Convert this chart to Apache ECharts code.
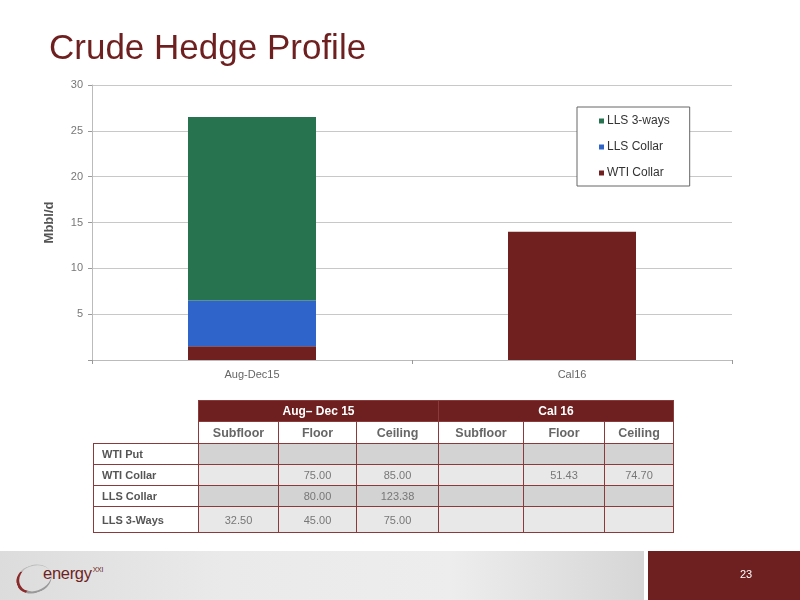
<!DOCTYPE html>
<html>
<head>
<meta charset="utf-8">
<script src="https://cdn.jsdelivr.net/npm/echarts@6/dist/echarts.min.js"></script>
<style>
html,body{margin:0;padding:0;background:#fff;}
#wrap{position:relative;width:800px;height:600px;overflow:hidden;font-family:"Liberation Sans",Arial,sans-serif;}
#chart{position:absolute;left:0;top:0;width:800px;height:600px;}
#tbl{position:absolute;left:93px;top:400px;border-collapse:collapse;font-family:"Liberation Sans",Arial,sans-serif;}
#tbl td{padding:0;border:1px solid #8a3a3a;font-size:11px;color:#777;text-align:center;}
#tbl tr.h1 td{background:#6e1f1f;color:#fff;font-weight:bold;font-size:12px;height:20px;}
#tbl tr.h1 td.blank{background:#fff;border:none;}
#tbl tr.h2 td{background:#fff;color:#666;font-weight:bold;font-size:12.5px;height:21px;}
#tbl tr.h2 td.blank{border:none;border-bottom:1px solid #8a3a3a;}
#tbl td.lab{background:#fff;color:#555;font-weight:bold;text-align:left;padding-left:8px;font-size:11px;}
#tbl tr.dk td.v{background:#d3d3d3;}
#tbl tr.lt td.v{background:#e8e8e8;}
#tbl tr.r td{height:20px;}
#tbl tr.last td{height:25px;}
#foot{position:absolute;left:0;top:551px;width:644px;height:49px;background:linear-gradient(90deg,#dcdcdc 0%,#eaeaea 35%,#ededed 70%,#d6d6d6 100%);}
#pg{position:absolute;left:648px;top:551px;width:152px;height:49px;background:#6e1f1f;color:#fff;font-size:11px;}
#pg span{position:absolute;left:92px;top:17px;}
#logo{position:absolute;left:43px;top:13px;color:#6e1f1f;font-size:16.5px;letter-spacing:-0.3px;}
#logo sup{font-size:7px;vertical-align:7px;margin-left:1px;}
#swoosh{position:absolute;left:16px;top:14px;width:36px;height:28px;border-radius:50%;border-left:3px solid #8a2a2a;border-bottom:2px solid #999;border-top:1px solid #bbb;box-sizing:border-box;transform:rotate(-20deg);}
</style>
</head>
<body>
<div id="wrap">
<div id="chart"></div>
<table id="tbl"></table>
<div id="foot"><div id="swoosh"></div><div id="logo">energy<sup>XXI</sup></div></div>
<div id="pg"><span>23</span></div>
</div>
<script>
var categories = ["Aug-Dec15", "Cal16"];
var wtiCollar = [1.5, 14];
var llsCollar = [5, 0];
var lls3ways = [20, 0];
var yTicks = [0, 5, 10, 15, 20, 25, 30];

var tableGroups = ["Aug\u2013 Dec 15", "Cal 16"];
var tableCols = ["Subfloor", "Floor", "Ceiling", "Subfloor", "Floor", "Ceiling"];
var tableRows = ["WTI Put", "WTI Collar", "LLS Collar", "LLS 3-Ways"];
var tableVals = [
  ["", "", "", "", "", ""],
  ["", "75.00", "85.00", "", "51.43", "74.70"],
  ["", "80.00", "123.38", "", "", ""],
  ["32.50", "45.00", "75.00", "", "", ""]
];

var colWidths = [105, 80, 78, 82, 85, 81, 69];
(function buildTable(){
  var t = document.getElementById('tbl');
  var h = '<colgroup>';
  colWidths.forEach(function(w){ h += '<col style="width:' + w + 'px">'; });
  h += '</colgroup>';
  h += '<tr class="h1"><td class="blank"></td><td colspan="3">' + tableGroups[0] + '</td><td colspan="3">' + tableGroups[1] + '</td></tr>';
  h += '<tr class="h2"><td class="blank"></td>';
  tableCols.forEach(function(c){ h += '<td>' + c + '</td>'; });
  h += '</tr>';
  tableRows.forEach(function(r, i){
    var cls = (i % 2 === 0 ? 'dk' : 'lt') + (i === tableRows.length - 1 ? ' last' : ' r');
    h += '<tr class="' + cls + '"><td class="lab">' + r + '</td>';
    tableVals[i].forEach(function(v){ h += '<td class="v">' + v + '</td>'; });
    h += '</tr>';
  });
  t.innerHTML = h;
})();

var chart = echarts.init(document.getElementById('chart'));
chart.setOption({
  animation: false,
  title: {
    text: 'Crude Hedge Profile',
    left: 44, top: 27,
    textStyle: {color: '#6e1f1f', fontSize: 35, fontWeight: 'normal', fontFamily: 'Liberation Sans, Arial, sans-serif'}
  },
  legend: {
    data: ['LLS 3-ways', 'LLS Collar', 'WTI Collar'],
    orient: 'vertical',
    left: 577, top: 107,
    padding: [8, 20, 7, 22],
    itemWidth: 5, itemHeight: 5, itemGap: 14,
    icon: 'rect',
    borderColor: '#666', borderWidth: 1, backgroundColor: '#fff',
    textStyle: {fontSize: 12, color: '#333', fontFamily: 'Liberation Sans, Arial, sans-serif', padding: [0, 0, 0, -2]}
  },
  grid: {left: 92, right: 68, top: 85, bottom: 240},
  xAxis: {
    type: 'category',
    data: categories,
    axisLine: {lineStyle: {color: '#bbb'}},
    axisTick: {show: true, length: 4, lineStyle: {color: '#999'}},
    axisLabel: {color: '#666', fontSize: 11, margin: 9, fontFamily: 'Liberation Sans, Arial, sans-serif'}
  },
  yAxis: {
    type: 'value',
    min: yTicks[0], max: yTicks[yTicks.length - 1], interval: 5,
    name: 'Mbbl/d', nameLocation: 'middle', nameGap: 36, nameRotate: 90,
    nameTextStyle: {color: '#555', fontSize: 13, fontWeight: 'bold', fontFamily: 'Liberation Sans, Arial, sans-serif'},
    axisLine: {show: true, lineStyle: {color: '#bbb'}},
    axisTick: {show: true, length: 4, lineStyle: {color: '#999'}},
    splitLine: {lineStyle: {color: '#c8c8c8'}},
    axisLabel: {color: '#777', fontSize: 11, margin: 9, fontFamily: 'Liberation Sans, Arial, sans-serif',
      formatter: function(v){ return v === 0 ? '' : String(v); }}
  },
  series: [
    {name: 'WTI Collar', type: 'bar', stack: 's', data: wtiCollar, barWidth: '40%', itemStyle: {color: '#70201e'}},
    {name: 'LLS Collar', type: 'bar', stack: 's', data: llsCollar, barWidth: '40%', itemStyle: {color: '#2f64cb'}},
    {name: 'LLS 3-ways', type: 'bar', stack: 's', data: lls3ways, barWidth: '40%', itemStyle: {color: '#277350'}}
  ]
});
</script>
</body>
</html>
